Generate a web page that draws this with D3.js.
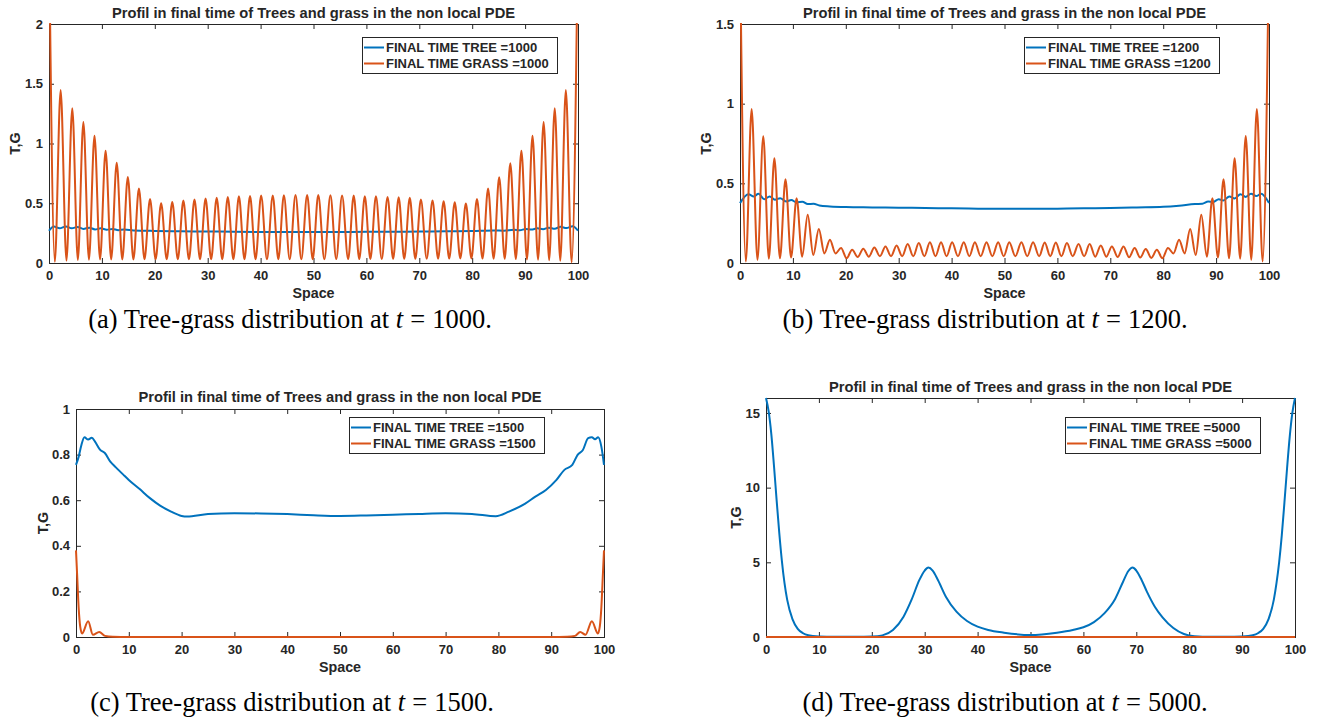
<!DOCTYPE html>
<html>
<head>
<meta charset="utf-8">
<script src="https://cdn.jsdelivr.net/npm/d3@7"></script>
<style>
body { margin: 0; background: #fff; }
svg { display: block; }
.ax text { font-family: "Liberation Sans", Arial, Helvetica, sans-serif; font-weight: bold; font-size: 13px; fill: #262626; }
.lbl { font-family: "Liberation Sans", Arial, Helvetica, sans-serif; font-weight: bold; fill: #262626; }
.cap { font-family: "Liberation Serif", "Times New Roman", serif; font-size: 26.5px; fill: #000; }
</style>
</head>
<body>
<svg id="fig" width="1321" height="723"></svg>
<script>
// ---- data ----
var xTicks = [0, 10, 20, 30, 40, 50, 60, 70, 80, 90, 100];
var titleText = "Profil in final time of Trees and grass in the non local PDE";

// positions of the grass ripples (panels a and b share the same grid)
var peakX = [2.2, 4.4, 6.5, 8.6, 10.7, 12.8, 14.9, 17.0, 19.1, 21.2,
    23.3, 25.4, 27.5, 29.6, 31.7, 33.8, 35.9, 38.0, 40.1, 42.3,
    44.4, 46.6, 48.8, 50.9, 53.2, 55.4, 57.6, 59.7, 61.8, 64.0,
    66.1, 68.2, 70.3, 72.5, 74.6, 76.7, 78.8, 80.9, 83.0, 85.1,
    87.2, 89.3, 91.4, 93.5, 95.6, 97.7];
var troughX = [1.1, 3.3, 5.45, 7.55, 9.65, 11.75, 13.85, 15.95, 18.05, 20.15,
    22.25, 24.35, 26.45, 28.55, 30.65, 32.75, 34.85, 36.95, 39.05, 41.2,
    43.35, 45.5, 47.7, 49.85, 52.05, 54.3, 56.55, 58.65, 60.75, 62.9,
    65.05, 67.15, 69.25, 71.4, 73.55, 75.65, 77.75, 79.85, 81.95, 84.05,
    86.15, 88.25, 90.35, 92.45, 94.55, 96.65, 98.8];

// (a) t = 1000
var grassA_ends = [2.8, 2.8];
var grassA_peaks = [1.447, 1.296, 1.180, 1.064, 0.939, 0.838, 0.720, 0.623, 0.536, 0.500,
    0.511, 0.522, 0.531, 0.539, 0.545, 0.553, 0.559, 0.561, 0.564, 0.564,
    0.567, 0.570, 0.570, 0.570, 0.566, 0.564, 0.564, 0.559, 0.559, 0.553,
    0.550, 0.545, 0.531, 0.522, 0.517, 0.508, 0.497, 0.536, 0.623, 0.718,
    0.835, 0.939, 1.064, 1.179, 1.296, 1.447];
var grassA_troughs = [0.010, 0.020, 0.025, 0.028, 0.030, 0.030, 0.030, 0.030, 0.032, 0.032,
    0.032, 0.032, 0.032, 0.032, 0.032, 0.032, 0.032, 0.032, 0.032, 0.032,
    0.032, 0.032, 0.032, 0.032, 0.032, 0.033, 0.033, 0.033, 0.034, 0.034,
    0.035, 0.035, 0.035, 0.036, 0.036, 0.037, 0.038, 0.038, 0.037, 0.036,
    0.035, 0.033, 0.030, 0.028, 0.024, 0.018, 0.005];
var treeA = [[0, 0.27], [0.9, 0.305], [2.0, 0.29], [3.2, 0.306], [4.3, 0.29], [5.4, 0.302],
    [6.5, 0.285], [7.6, 0.296], [8.7, 0.281], [9.8, 0.29], [10.9, 0.278], [12.0, 0.285],
    [13.1, 0.275], [14.2, 0.28], [16, 0.272], [18, 0.27], [20, 0.268], [25, 0.265],
    [30, 0.264], [35, 0.262], [40, 0.26], [45, 0.26], [50, 0.26], [55, 0.26], [60, 0.261],
    [65, 0.262], [70, 0.263], [75, 0.265], [80, 0.267], [84, 0.272], [86, 0.27],
    [87.9, 0.278], [89, 0.275], [90.1, 0.284], [91.2, 0.28], [92.3, 0.29], [93.4, 0.283],
    [94.5, 0.296], [95.6, 0.287], [96.7, 0.303], [97.8, 0.292], [99.0, 0.308], [100, 0.27]];

// (b) t = 1200
var grassB_ends = [2.0, 2.0];
var grassB_peaks = [0.967, 0.795, 0.658, 0.526, 0.407, 0.303, 0.213, 0.146, 0.094, 0.083,
    0.090, 0.098, 0.104, 0.110, 0.119, 0.125, 0.130, 0.131, 0.131, 0.131,
    0.131, 0.131, 0.131, 0.131, 0.131, 0.131, 0.129, 0.129, 0.125, 0.119,
    0.119, 0.110, 0.104, 0.104, 0.094, 0.088, 0.083, 0.094, 0.146, 0.213,
    0.303, 0.407, 0.526, 0.658, 0.797, 0.967];
var grassB_troughs = [0.010, 0.020, 0.027, 0.030, 0.035, 0.040, 0.050, 0.060, 0.060, 0.030,
    0.038, 0.040, 0.042, 0.042, 0.042, 0.042, 0.042, 0.042, 0.042, 0.042,
    0.042, 0.042, 0.042, 0.042, 0.042, 0.042, 0.042, 0.042, 0.042, 0.042,
    0.042, 0.040, 0.040, 0.038, 0.036, 0.034, 0.032, 0.030, 0.060, 0.060,
    0.050, 0.040, 0.035, 0.030, 0.027, 0.020, 0.010];
var treeB = [[0, 0.376], [1.6, 0.432], [2.6, 0.418], [3.5, 0.434], [4.6, 0.40], [5.6, 0.418],
    [6.6, 0.397], [7.6, 0.407], [8.7, 0.386], [9.7, 0.395], [10.7, 0.38], [11.8, 0.385],
    [12.8, 0.37], [13.9, 0.372], [15, 0.361], [17, 0.355], [20, 0.351], [25, 0.349],
    [30, 0.347], [35, 0.345], [40, 0.343], [45, 0.341], [50, 0.34], [55, 0.34], [60, 0.341],
    [65, 0.343], [70, 0.345], [75, 0.349], [80, 0.353], [83, 0.36], [86, 0.37], [87.4, 0.372],
    [88.5, 0.386], [89.4, 0.383], [90.5, 0.40], [91.4, 0.393], [92.5, 0.418], [93.5, 0.405],
    [94.6, 0.432], [95.6, 0.415], [96.6, 0.434], [97.6, 0.42], [98.5, 0.434], [100, 0.376]];

// (c) t = 1500
var treeC = [[0, 0.755], [0.5, 0.79], [1, 0.84], [1.6, 0.876], [2.3, 0.866], [3, 0.874],
    [3.6, 0.857], [4.5, 0.823], [5.5, 0.806], [6.5, 0.769], [7.5, 0.745], [9, 0.711],
    [10, 0.689], [12, 0.65], [14, 0.609], [16, 0.575], [18, 0.55], [20, 0.531], [21, 0.528],
    [25, 0.539], [30, 0.543], [35, 0.542], [40, 0.539], [45, 0.534], [50, 0.531], [55, 0.533],
    [60, 0.536], [65, 0.54], [70, 0.543], [75, 0.54], [79.5, 0.53], [82, 0.55], [85, 0.584],
    [87, 0.616], [89, 0.645], [91, 0.689], [92.5, 0.733], [94, 0.755], [95, 0.799],
    [96, 0.82], [97, 0.872], [97.7, 0.876], [98.3, 0.867], [98.9, 0.876], [99.5, 0.835],
    [100, 0.755]];
var grassC = [[0, 0.38], [0.2, 0.28], [0.5, 0.13], [0.8, 0.045], [1.15, 0.015], [2.3, 0.069],
    [3.2, 0.01], [4.4, 0.022], [5.5, 0.005], [7, 0.001], [10, 0], [50, 0], [90, 0],
    [93, 0.001], [94.5, 0.005], [95.5, 0.022], [96.5, 0.01], [97.7, 0.069], [98.85, 0.015],
    [99.2, 0.045], [99.5, 0.13], [99.8, 0.28], [100, 0.38]];

// (d) t = 5000
var treeD = [[0, 16], [0.5, 15.1], [1, 13.6], [1.5, 11.5], [2, 9.2], [2.5, 7.0], [3, 5.1],
    [3.5, 3.6], [4, 2.5], [5, 1.2], [6, 0.55], [7, 0.25], [8, 0.12], [10, 0.04], [13, 0.01],
    [17, 0.01], [20, 0.03], [22, 0.11], [24, 0.47], [26, 1.36], [27.5, 2.48], [29, 3.82],
    [30, 4.45], [30.7, 4.65], [31.5, 4.45], [32.5, 3.82], [34, 2.7], [36, 1.7], [38, 1.07],
    [40, 0.69], [42, 0.47], [45, 0.29], [50, 0.13], [55, 0.29], [58, 0.47], [60, 0.65],
    [62, 1.0], [64, 1.6], [66, 2.55], [67.5, 3.7], [68.5, 4.42], [69.3, 4.65], [70, 4.45],
    [71, 3.82], [72, 3.04], [73.5, 2.03], [75, 1.3], [77, 0.6], [79, 0.2], [81, 0.05],
    [84, 0.01], [87, 0.01], [90, 0.04], [92, 0.12], [93, 0.25], [94, 0.55], [95, 1.2],
    [96, 2.5], [96.5, 3.6], [97, 5.0], [97.5, 6.8], [98, 9.0], [98.5, 11.3], [99, 13.4],
    [99.5, 15.0], [100, 16]];
var grassD = [[0, 0], [50, 0], [100, 0]];

// ---- build the rippled grass series from the extremes ----
function ripple(ends, troughV, peakV) {
    var pts = [[0, ends[0]]];
    troughX.forEach(function(x, i) {
        pts.push([x, troughV[i]]);
        if (i < peakX.length) pts.push([peakX[i], peakV[i]]);
    });
    pts.push([100, ends[1]]);
    return pts;
}

var panels = [
    { id: "a", box: [49, 24, 578, 263], yMax: 2, yTicks: [0, 0.5, 1, 1.5, 2],
      tree: treeA, grass: ripple(grassA_ends, grassA_troughs, grassA_peaks), time: 1000,
      legend: [362, 37], ylabX: 15, titleY: 17.5, caption: [290, 328] },
    { id: "b", box: [740, 24, 1269, 263], yMax: 1.5, yTicks: [0, 0.5, 1, 1.5],
      tree: treeB, grass: ripple(grassB_ends, grassB_troughs, grassB_peaks), time: 1200,
      legend: [1024, 37], ylabX: 706, titleY: 17.5, caption: [985, 328] },
    { id: "c", box: [76, 409, 604, 637], yMax: 1, yTicks: [0, 0.2, 0.4, 0.6, 0.8, 1],
      tree: treeC, grass: grassC, time: 1500,
      legend: [349, 417], ylabX: 42.5, titleY: 401.5, caption: [292, 711] },
    { id: "d", box: [766, 398, 1295, 637], yMax: 16, yTicks: [0, 5, 10, 15],
      tree: treeD, grass: grassD, time: 5000,
      legend: [1065, 417], ylabX: 736, titleY: 392, caption: [1005, 711] }
];

var blue = "#0072BD", orange = "#D95319", axisCol = "#262626";
var svg = d3.select("#fig");

panels.forEach(function(p) {
    var L = p.box[0], T = p.box[1], R = p.box[2], B = p.box[3];
    var x = d3.scaleLinear().domain([0, 100]).range([L, R]),
        y = d3.scaleLinear().domain([0, p.yMax]).range([B, T]);
    var g = svg.append("g").attr("class", "ax");

    // axes with inward ticks on all four sides
    g.append("g").attr("transform", "translate(0," + B + ")")
        .call(d3.axisBottom(x).tickValues(xTicks).tickSizeInner(-5).tickSizeOuter(0).tickPadding(8));
    g.append("g").attr("transform", "translate(0," + T + ")")
        .call(d3.axisTop(x).tickValues(xTicks).tickSizeInner(-5).tickSizeOuter(0).tickFormat(""));
    g.append("g").attr("transform", "translate(" + L + ",0)")
        .call(d3.axisLeft(y).tickValues(p.yTicks).tickSizeInner(-5).tickSizeOuter(0).tickPadding(6)
            .tickFormat(function(d) { return String(d); }));
    g.append("g").attr("transform", "translate(" + R + ",0)")
        .call(d3.axisRight(y).tickValues(p.yTicks).tickSizeInner(-5).tickSizeOuter(0).tickFormat(""));
    g.selectAll(".domain").remove();
    g.selectAll(".tick line").attr("stroke", axisCol);

    g.append("rect")
        .attr("x", L + 0.5).attr("y", T + 0.5)
        .attr("width", R - L).attr("height", B - T)
        .attr("fill", "none").attr("stroke", axisCol).attr("stroke-width", 1);

    // curves, clipped to the axes
    svg.append("clipPath").attr("id", "clip-" + p.id)
        .append("rect").attr("x", L - 1).attr("y", T - 1)
        .attr("width", R - L + 3).attr("height", B - T + 3);

    var line = d3.line()
        .x(function(d) { return x(d[0]); })
        .y(function(d) { return y(d[1]); })
        .curve(d3.curveMonotoneX);

    var lines = svg.append("g").attr("clip-path", "url(#clip-" + p.id + ")");
    lines.append("path").datum(p.tree).attr("d", line)
        .attr("fill", "none").attr("stroke", blue).attr("stroke-width", 2);
    lines.append("path").datum(p.grass).attr("d", line)
        .attr("fill", "none").attr("stroke", orange).attr("stroke-width", 2);

    // title and axis labels
    svg.append("text").attr("class", "lbl")
        .attr("x", (L + R) / 2).attr("y", p.titleY)
        .attr("text-anchor", "middle").style("font-size", "14.7px")
        .text(titleText);
    svg.append("text").attr("class", "lbl")
        .attr("x", (L + R) / 2).attr("y", B + 35)
        .attr("text-anchor", "middle").style("font-size", "14.3px")
        .text("Space");
    svg.append("text").attr("class", "lbl")
        .attr("transform", "translate(" + p.ylabX + "," + (T + B) / 2 + ") rotate(-90)")
        .attr("dy", "0.35em")
        .attr("text-anchor", "middle").style("font-size", "14.3px")
        .text("T,G");

    // legend
    var lg = svg.append("g").attr("transform", "translate(" + p.legend[0] + "," + p.legend[1] + ")");
    lg.append("rect").attr("x", 0.5).attr("y", 0.5).attr("width", 195).attr("height", 36)
        .attr("fill", "#fff").attr("stroke", axisCol).attr("stroke-width", 1);
    var items = [["FINAL TIME TREE =" + p.time, blue], ["FINAL TIME GRASS =" + p.time, orange]];
    items.forEach(function(it, i) {
        var cy = 10.5 + i * 16;
        lg.append("line").attr("x1", 2).attr("x2", 22).attr("y1", cy).attr("y2", cy)
            .attr("stroke", it[1]).attr("stroke-width", 2);
        lg.append("text").attr("class", "lbl").style("font-size", "13px")
            .attr("x", 24).attr("y", cy + 4.8).text(it[0]);
    });

    // caption under the panel
    var cap = svg.append("text").attr("class", "cap")
        .attr("x", p.caption[0]).attr("y", p.caption[1])
        .attr("text-anchor", "middle");
    cap.append("tspan").text("(" + p.id + ") Tree-grass distribution at ");
    cap.append("tspan").style("font-style", "italic").text("t");
    cap.append("tspan").attr("dx", 7).text("=");
    cap.append("tspan").attr("dx", 7).text(p.time + ".");
});
</script>
</body>
</html>
